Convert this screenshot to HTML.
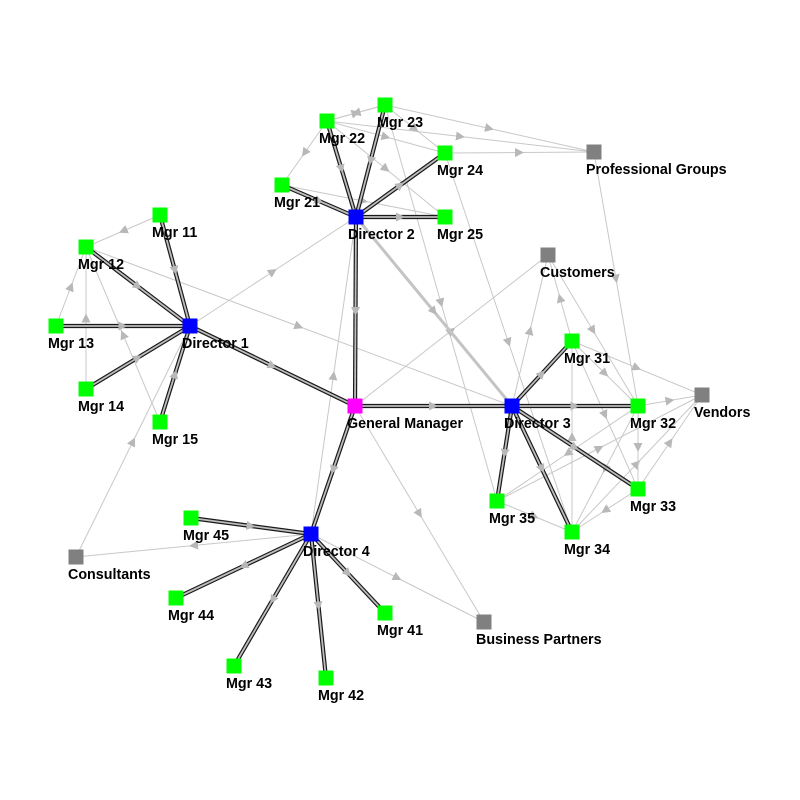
<!DOCTYPE html>
<html><head><meta charset="utf-8"><style>
html,body{margin:0;padding:0;background:#fff;}
svg{display:block}
text{font-family:"Liberation Sans",Arial,sans-serif;font-size:14.3px;font-weight:bold;fill:#000}
.l{stroke:#c8c8c8;stroke-width:1;fill:none;marker-mid:url(#a)}
.to{stroke:#1a1a1a;stroke-width:4.2;fill:none}
.ti{stroke:#bdbdbd;stroke-width:1.8;fill:none;marker-mid:url(#a)}
</style></head><body>
<svg width="800" height="800" viewBox="0 0 800 800" xmlns="http://www.w3.org/2000/svg">
<defs><marker id="a" viewBox="0 0 10 10" refX="5" refY="5" markerWidth="9" markerHeight="9" markerUnits="userSpaceOnUse" orient="auto"><path d="M0,0L10,5L0,10z" fill="#b8b8b8"/></marker></defs>
<g id="light"></g>
<g id="thick"></g>
<g id="nodes"></g>
</svg>
<script>
var N={GM:[355,406,'#ff00ff','General Manager'],D1:[190,326,'#0000ff','Director 1'],D2:[356,217,'#0000ff','Director 2'],D3:[512,406,'#0000ff','Director 3'],D4:[311,534,'#0000ff','Director 4'],
M11:[160,215,'#00ff00','Mgr 11'],M12:[86,247,'#00ff00','Mgr 12'],M13:[56,326,'#00ff00','Mgr 13'],M14:[86,389,'#00ff00','Mgr 14'],M15:[160,422,'#00ff00','Mgr 15'],
M21:[282,185,'#00ff00','Mgr 21'],M22:[327,121,'#00ff00','Mgr 22'],M23:[385,105,'#00ff00','Mgr 23'],M24:[445,153,'#00ff00','Mgr 24'],M25:[445,217,'#00ff00','Mgr 25'],
M31:[572,341,'#00ff00','Mgr 31'],M32:[638,406,'#00ff00','Mgr 32'],M33:[638,489,'#00ff00','Mgr 33'],M34:[572,532,'#00ff00','Mgr 34'],M35:[497,501,'#00ff00','Mgr 35'],
M41:[385,613,'#00ff00','Mgr 41'],M42:[326,678,'#00ff00','Mgr 42'],M43:[234,666,'#00ff00','Mgr 43'],M44:[176,598,'#00ff00','Mgr 44'],M45:[191,518,'#00ff00','Mgr 45'],
PG:[594,152,'#808080','Professional Groups'],CU:[548,255,'#808080','Customers'],VE:[702,395,'#808080','Vendors'],CO:[76,557,'#808080','Consultants'],BP:[484,622,'#808080','Business Partners']};
var light=[['M22','M23'],['M23','M22'],['M22','M24'],['M22','PG'],['M23','PG'],['M23','M24'],['M24','PG'],['M22','M21'],['M21','M25'],['M22','M25'],['M23','M35'],['M24','M34'],['M23','D2'],
['D1','D2'],['M12','D3'],['GM','CU'],['D3','CU'],['M31','CU'],['CU','M32'],['PG','M32'],['M31','VE'],['M32','VE'],['M33','VE'],['M34','VE'],['M35','VE'],['M31','M32'],['M31','M33'],['M32','M33'],['M32','M34'],['M32','M35'],['M33','M34'],['M35','M34'],['M34','M31'],
['GM','BP'],['D4','BP'],['D4','D2'],['D4','CO'],['CO','D1'],['M11','M12'],['M13','M12'],['M14','M12'],['M15','M12'],['M21','D2'],['D3','M34']];
var thick=[['D1','GM'],['D2','GM'],['GM','D3'],['GM','D4'],['M11','D1'],['M12','D1'],['M13','D1'],['M14','D1'],['M15','D1'],['M21','D2'],['M22','D2'],['M23','D2'],['D2','M24'],['D2','M25'],
['D3','M31'],['D3','M32'],['D3','M33'],['D3','M34'],['D3','M35'],['D4','M41'],['D4','M42'],['D4','M43'],['D4','M44'],['M45','D4']];
var ns='http://www.w3.org/2000/svg';
function p(a,b){var A=N[a],B=N[b];var mx=(A[0]+B[0])/2,my=(A[1]+B[1])/2;return 'M'+A[0]+','+A[1]+'L'+mx+','+my+'L'+B[0]+','+B[1];}
function add(g,tag,at,txt){var e=document.createElementNS(ns,tag);for(var k in at)e.setAttribute(k,at[k]);if(txt)e.textContent=txt;document.getElementById(g).appendChild(e);}
light.forEach(function(e){add('light','path',{d:p(e[0],e[1]),'class':'l'});});
add('light','path',{d:p('D2','D3'),stroke:'#c4c4c4','stroke-width':3,fill:'none','marker-mid':'url(#a)'});
thick.forEach(function(e){add('thick','path',{d:p(e[0],e[1]),'class':'to'});add('thick','path',{d:p(e[0],e[1]),'class':'ti'});});
for(var k in N){var n=N[k];add('nodes','rect',{x:n[0]-7.5,y:n[1]-7.5,width:15,height:15,fill:n[2]});}
for(var k in N){var n=N[k];add('nodes','text',{x:n[0]-8,y:n[1]+22},n[3]);}
</script>
</body></html>
